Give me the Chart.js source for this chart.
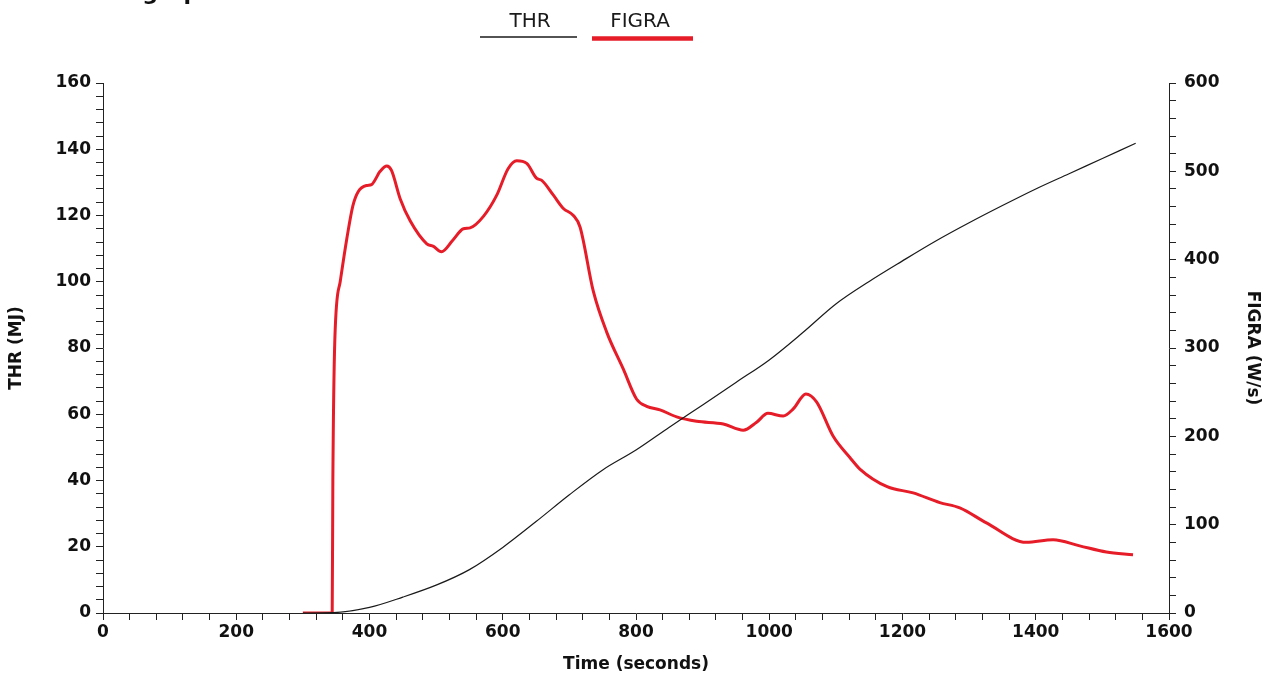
<!DOCTYPE html>
<html>
<head>
<meta charset="utf-8">
<script src="https://cdn.jsdelivr.net/npm/chart.js@4/dist/chart.umd.min.js"></script>
<style>
  html, body { margin: 0; padding: 0; background: #fff; }
  #wrap { width: 1273px; height: 680px; position: relative; }
</style>
</head>
<body>
<div id="wrap"><canvas id="myChart" width="1273" height="680"></canvas></div>
<script>
// Data
var seriesNames = ['THR', 'FIGRA'];

// THR (MJ), left axis
var thrTime = [300, 345, 400, 450, 500, 550, 600, 650, 700, 750, 800, 850, 900, 950, 1000,
    1050, 1100, 1150, 1200, 1250, 1300, 1350, 1400, 1450, 1500, 1550];
var thrValues = [0, 0.1, 1.7, 4.8, 8.4, 13.1, 19.8, 27.6, 35.7, 43.2, 49.2, 56.1, 62.8, 69.6, 76.4,
    84.6, 93.3, 100.1, 106.3, 112.3, 117.8, 123, 128, 132.6, 137.2, 141.8];

// FIGRA (W/s), right axis
var figraTime = [300, 344, 345, 348, 356, 366, 375, 383, 396, 403, 416, 426, 433, 446, 461, 486,
    496, 508, 525, 541, 551, 571, 591, 608, 621, 636, 651, 658, 676, 691, 706, 716, 736, 756,
    781, 801, 816, 836, 861, 891, 931, 961, 981, 998, 1021, 1036, 1055, 1071, 1096, 1121, 1136,
    1177, 1216, 1256, 1286, 1326, 1386, 1426, 1466, 1506, 1546];
var figraValues = [0, 0, 150, 310, 375, 424, 461, 477, 484, 485, 500, 506, 501, 469, 444, 418,
    415, 409, 422, 435, 436, 449, 473, 503, 512, 509, 492, 490, 473, 458, 450, 437, 364, 318,
    276, 242, 234, 230, 222, 217, 214, 207, 216, 226, 223, 231, 248, 239, 200, 176, 163,
    143, 136, 125, 119, 102, 80, 83, 76, 69, 66];

function toPoints(xs, ys) {
    var pts = [];
    for (var i = 0; i < xs.length; i++) pts.push({ x: xs[i], y: ys[i] });
    return pts;
}

var tickFont = { family: '"DejaVu Sans", sans-serif', size: 17, weight: 'bold' };
var titleFont = { family: '"DejaVu Sans", sans-serif', size: 17, weight: 'bold' };
var axisColor = '#222';

// legend with the line under each name, like the original
var underLegend = {
    id: 'underLegend',
    afterDraw: function (chart) {
        var c = chart.ctx;
        var items = [
            { cx: 530, x1: 480, x2: 577, y: 37, w: 1.5 },
            { cx: 640, x1: 592, x2: 693, y: 38.5, w: 4.5 }
        ];
        c.save();
        c.font = '20px "DejaVu Sans", sans-serif';
        c.textAlign = 'center';
        c.textBaseline = 'alphabetic';
        chart.data.datasets.forEach(function (ds, i) {
            var it = items[i];
            c.fillStyle = '#1a1a1a';
            c.fillText(ds.label, it.cx, 27);
            c.strokeStyle = ds.borderColor;
            c.lineWidth = it.w;
            c.beginPath();
            c.moveTo(it.x1, it.y);
            c.lineTo(it.x2, it.y);
            c.stroke();
        });
        // cut-off heading at the very top of the scan
        c.font = 'bold 22px "DejaVu Sans", sans-serif';
        c.textAlign = 'right';
        c.fillStyle = '#111';
        c.fillText('THR & FIGRA graph', 215, 0);
        c.restore();
    }
};

var ctx = document.getElementById('myChart').getContext('2d');

var myChart = new Chart(ctx, {
    type: 'line',
    data: {
        datasets: [{
            label: seriesNames[0],
            data: toPoints(thrTime, thrValues),
            borderColor: '#1a1a1a',
            borderWidth: 1.2,
            pointRadius: 0,
            cubicInterpolationMode: 'monotone',
            yAxisID: 'y'
        }, {
            label: seriesNames[1],
            data: toPoints(figraTime, figraValues),
            borderColor: '#e61c28',
            borderWidth: 3,
            pointRadius: 0,
            cubicInterpolationMode: 'monotone',
            yAxisID: 'y2'
        }]
    },
    options: {
        responsive: false,
        animation: false,
        layout: { padding: { top: 83, left: 0, right: 0, bottom: 0 } },
        plugins: {
            legend: { display: false },
            tooltip: { enabled: false }
        },
        scales: {
            x: {
                type: 'linear',
                min: 0,
                max: 1600,
                border: { display: true, color: axisColor, width: 1 },
                grid: { drawOnChartArea: false, drawTicks: true, tickLength: 7, color: axisColor },
                ticks: {
                    stepSize: 40,
                    autoSkip: false,
                    maxRotation: 0,
                    color: '#111',
                    font: tickFont,
                    padding: 2,
                    callback: function (v) { return v % 200 === 0 ? v : ''; }
                },
                title: { display: true, text: 'Time (seconds)', color: '#111', font: titleFont, padding: { top: 4, bottom: 5 } },
                afterFit: function (s) { s.height = 67; }
            },
            y: {
                position: 'left',
                min: 0,
                max: 160,
                border: { display: true, color: axisColor, width: 1 },
                grid: { drawOnChartArea: false, drawTicks: true, tickLength: 7, color: axisColor },
                ticks: {
                    stepSize: 4,
                    autoSkip: false,
                    color: '#111',
                    font: tickFont,
                    padding: 5,
                    callback: function (v) { return v % 20 === 0 ? v : ''; }
                },
                title: { display: true, text: 'THR (MJ)', color: '#111', font: titleFont, padding: { top: 6, bottom: 0 } },
                afterFit: function (s) { s.width = 103; }
            },
            y2: {
                position: 'right',
                min: 0,
                max: 600,
                border: { display: true, color: axisColor, width: 1 },
                grid: { drawOnChartArea: false, drawTicks: true, tickLength: 7, color: axisColor },
                ticks: {
                    stepSize: 20,
                    autoSkip: false,
                    color: '#111',
                    font: tickFont,
                    padding: 8,
                    callback: function (v) { return v % 100 === 0 ? v : ''; }
                },
                title: { display: true, text: 'FIGRA (W/s)', color: '#111', font: titleFont, padding: { top: 10, bottom: 0 } },
                afterFit: function (s) { s.width = 104; }
            }
        }
    },
    plugins: [underLegend]
});
</script>
</body>
</html>
